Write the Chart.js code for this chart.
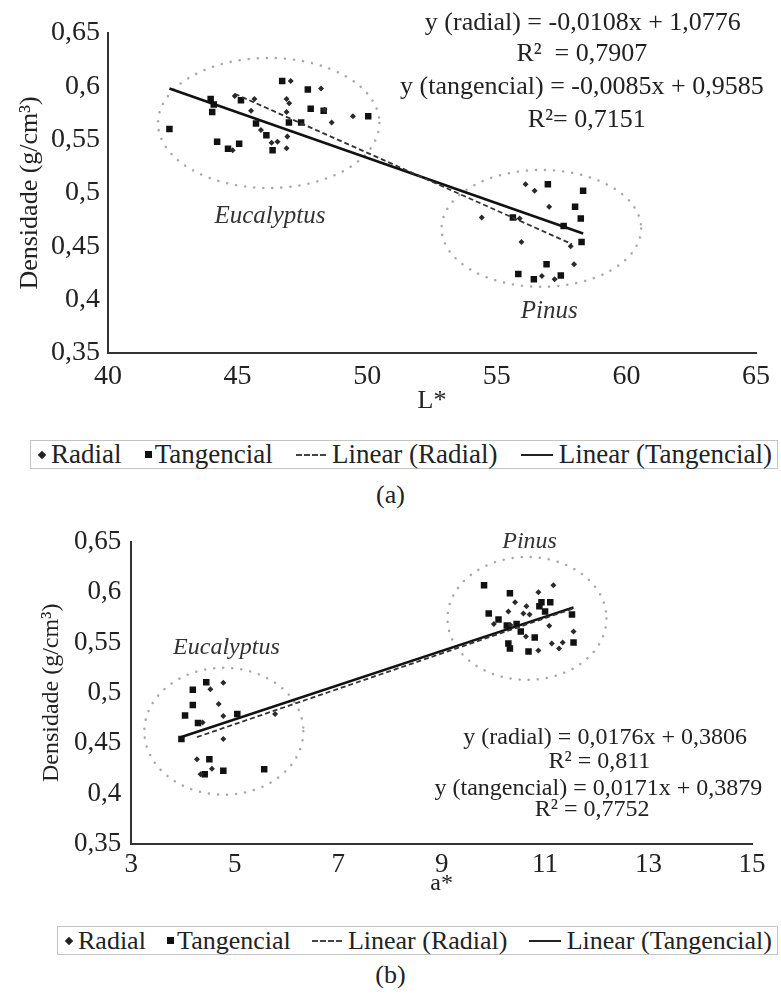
<!DOCTYPE html>
<html>
<head>
<meta charset="utf-8">
<title>Densidade x L* e a*</title>
<script src="https://cdn.jsdelivr.net/npm/chart.js"></script>
<style>
    body { margin: 0; background: #fff; }
    #page { position: relative; width: 781px; height: 996px; font-family: "Liberation Serif", serif; color: #222; }
    canvas { position: absolute; left: 0; }
    #chartA { top: 0; }
    #chartB { top: 505px; }
    .legend {
        position: absolute; box-sizing: border-box; border: 1px solid #c4c4c4;
        display: flex; justify-content: space-between; align-items: center;
        white-space: nowrap; padding: 0 5px 0 7px;
    }
    #legendA { left: 30px; top: 440px; width: 748px; height: 29px; font-size: 27px; }
    #legendB { left: 57px; top: 926px; width: 721px; height: 29px; font-size: 26px; }
    .item { display: flex; align-items: center; }
    .mk { display: inline-block; }
    .mk.diamond { width: 6px; height: 6px; background: #222; transform: rotate(45deg); margin: 0 6px 0 1px; }
    .mk.square { width: 7px; height: 7px; background: #111; margin-right: 3px; }
    .mk.dash { width: 30px; border-top: 2px dashed #444; margin-right: 6px; }
    .mk.line { width: 32px; border-top: 2px solid #222; margin-right: 6px; }
    .caption { position: absolute; left: 0; width: 781px; text-align: center; font-size: 26px; line-height: 30px; }
    #capA { top: 480px; }
    #capB { top: 960px; }
</style>
</head>
<body>
<div id="page">
    <canvas id="chartA" width="781" height="420"></canvas>
    <div id="legendA" class="legend"></div>
    <div id="capA" class="caption">(a)</div>
    <canvas id="chartB" width="781" height="400"></canvas>
    <div id="legendB" class="legend"></div>
    <div id="capB" class="caption">(b)</div>
</div>
<script>
Chart.defaults.font.family = "'Liberation Serif', 'Times New Roman', serif";
Chart.defaults.color = '#222';

const seriesNames = ['Radial', 'Tangencial', 'Linear (Radial)', 'Linear (Tangencial)'];
const densTicks = [0.35, 0.4, 0.45, 0.5, 0.55, 0.6, 0.65];

// (a) densidade x L*
const lRadial = [44.81, 44.89, 45.52, 45.65, 45.90, 46.31, 46.54, 46.89, 46.99, 46.89, 46.92, 46.89, 47.05, 48.22, 48.35, 48.63, 49.45,
                 54.42, 55.88, 55.95, 56.11, 56.46, 56.74, 57.02, 57.23, 57.85, 57.98];
const densLRadial = [0.540, 0.591, 0.577, 0.588, 0.559, 0.547, 0.548, 0.588, 0.584, 0.576, 0.553, 0.542, 0.605, 0.598, 0.578, 0.566, 0.572,
                     0.477, 0.476, 0.454, 0.508, 0.502, 0.422, 0.487, 0.419, 0.450, 0.433];
const lTang = [42.37, 43.96, 44.08, 44.02, 44.21, 44.63, 45.06, 45.13, 45.71, 46.11, 46.35, 46.72, 46.98, 47.45, 47.71, 47.82, 48.32, 50.04,
               56.97, 58.33, 58.02, 58.24, 55.62, 57.58, 58.27, 56.92, 55.83, 56.43, 57.47];
const densLTang = [0.560, 0.588, 0.583, 0.576, 0.548, 0.5415, 0.546, 0.587, 0.565, 0.554, 0.540, 0.605, 0.566, 0.566, 0.597, 0.579, 0.577, 0.572,
                   0.508, 0.502, 0.487, 0.476, 0.477, 0.469, 0.454, 0.433, 0.424, 0.419, 0.4225];
const lFitRadial = [44.89, 57.90];
const densLFitRadial = [0.593, 0.452];
const lFitTang = [42.37, 58.33];
const densLFitTang = [0.598, 0.462];
const lTicks = [40, 45, 50, 55, 60, 65];
const eqL = ['y (radial) = -0,0108x + 1,0776', 'R²  = 0,7907', 'y (tangencial) = -0,0085x + 0,9585', 'R²= 0,7151'];

// (b) densidade x a*
const aRadial = [4.78, 4.53, 4.69, 4.78, 4.38, 5.78, 4.78, 4.27, 4.56, 4.34,
                 11.16, 10.87, 10.42, 10.64, 10.29, 10.58, 10.70, 10.01, 11.08, 11.55, 10.63, 11.13, 11.34, 11.27, 10.87, 10.33];
const densARadial = [0.510, 0.5036, 0.489, 0.477, 0.4705, 0.479, 0.454, 0.434, 0.4245, 0.419,
                     0.607, 0.600, 0.590, 0.586, 0.581, 0.579, 0.578, 0.5685, 0.5666, 0.561, 0.556, 0.549, 0.550, 0.544, 0.542, 0.5675];
const aTang = [4.45, 4.19, 4.19, 4.04, 4.29, 5.05, 3.97, 4.51, 4.42, 4.78, 5.57,
               9.82, 10.32, 10.93, 11.10, 10.89, 11.00, 9.91, 11.52, 10.10, 10.26, 10.45, 10.53, 10.80, 11.55, 10.29, 10.32, 10.68];
const densATang = [0.5106, 0.503, 0.488, 0.4775, 0.470, 0.479, 0.454, 0.434, 0.419, 0.4225, 0.424,
                   0.607, 0.599, 0.590, 0.590, 0.586, 0.581, 0.579, 0.578, 0.573, 0.567, 0.5685, 0.561, 0.555, 0.550, 0.549, 0.544, 0.541];
const aFitRadial = [4.27, 11.55];
const densAFitRadial = [0.456, 0.584];
const aFitTang = [3.97, 11.55];
const densAFitTang = [0.456, 0.585];
const aTicks = [3, 5, 7, 9, 11, 13, 15];
const eqA = ['y (radial) = 0,0176x + 0,3806', 'R² = 0,811', 'y (tangencial) = 0,0171x + 0,3879', 'R² = 0,7752'];

const pts = (xs, ys) => xs.map((x, i) => ({x: x, y: ys[i]}));
const fmt = v => String(+(+v).toFixed(2)).replace('.', ',');

// dotted ellipses around the groups and the text notes, placed in data units
function decor(ellipses, notes) {
    return {
        id: 'decor',
        beforeDatasetsDraw(chart) {
            const {ctx, scales: {x, y}} = chart;
            ctx.save();
            ctx.strokeStyle = '#a8a8a8';
            ctx.lineWidth = 2.5;
            ctx.lineCap = 'round';
            ctx.setLineDash([0.1, 9]);
            ellipses.forEach(e => {
                const cx = x.getPixelForValue(e.cx), cy = y.getPixelForValue(e.cy);
                const rx = x.getPixelForValue(e.cx + e.rx) - cx;
                const ry = cy - y.getPixelForValue(e.cy + e.ry);
                ctx.beginPath();
                ctx.ellipse(cx, cy, rx, ry, 0, 0, 2 * Math.PI);
                ctx.stroke();
            });
            ctx.restore();
        },
        afterDraw(chart) {
            const {ctx, scales: {x, y}} = chart;
            ctx.save();
            ctx.textAlign = 'center';
            ctx.textBaseline = 'middle';
            notes.forEach(n => {
                ctx.font = (n.italic ? 'italic ' : '') + n.size + "px 'Liberation Serif', serif";
                ctx.fillStyle = n.italic ? '#333' : '#222';
                ctx.fillText(n.text, x.getPixelForValue(n.x), y.getPixelForValue(n.y));
            });
            ctx.restore();
        }
    };
}

function makeChart(id, o) {
    return new Chart(document.getElementById(id), {
        type: 'scatter',
        data: {
            datasets: [
                { label: seriesNames[0], mark: 'diamond', data: pts(o.xR, o.yR), pointStyle: 'rectRot', pointRadius: 3,
                  backgroundColor: '#2a2a2a', borderWidth: 0, order: 2 },
                { label: seriesNames[1], mark: 'square', data: pts(o.xT, o.yT), pointStyle: 'rect', pointRadius: 4.6,
                  backgroundColor: '#111', borderWidth: 0, order: 2 },
                { label: seriesNames[2], mark: 'dash', data: pts(o.fxR, o.fyR), showLine: true, borderColor: '#333',
                  borderWidth: 1.8, borderDash: [5, 3], pointRadius: 0, order: 1 },
                { label: seriesNames[3], mark: 'line', data: pts(o.fxT, o.fyT), showLine: true, borderColor: '#111',
                  borderWidth: 2.6, pointRadius: 0, order: 1 }
            ]
        },
        options: {
            responsive: false,
            animation: false,
            devicePixelRatio: 1,
            layout: { padding: o.pad },
            plugins: { legend: { display: false }, tooltip: { enabled: false } },
            scales: {
                x: {
                    type: 'linear', min: o.xTicks[0], max: o.xTicks[o.xTicks.length - 1],
                    afterBuildTicks: s => { s.ticks = o.xTicks.map(v => ({value: v})); },
                    grid: { display: false, drawTicks: false },
                    border: { color: '#333', width: 2 },
                    ticks: { font: { size: o.tick, lineHeight: 0.9 }, padding: o.xTickPad, color: '#222', callback: fmt, maxRotation: 0 },
                    title: { display: true, text: o.xTitle, font: { size: o.titleSize, lineHeight: 1 },
                             padding: { top: o.xTitleGap, bottom: 0 }, color: '#222' }
                },
                y: {
                    type: 'linear', min: 0.35, max: 0.65,
                    afterBuildTicks: s => { s.ticks = densTicks.map(v => ({value: v})); },
                    grid: { display: false, drawTicks: false },
                    border: { color: '#333', width: 2 },
                    ticks: { font: { size: o.tick, lineHeight: 0.9 }, padding: o.yTickPad, color: '#222', callback: fmt },
                    title: { display: true, text: 'Densidade (g/cm³)', font: { size: o.titleSize, lineHeight: 1 },
                             padding: { top: 0, bottom: 0 }, color: '#222' }
                }
            }
        },
        plugins: [decor(o.ellipses, o.notes)]
    });
}

function buildLegend(id, chart) {
    const el = document.getElementById(id);
    chart.data.datasets.forEach(ds => {
        const item = document.createElement('span');
        item.className = 'item';
        const mk = document.createElement('span');
        mk.className = 'mk ' + ds.mark;
        item.appendChild(mk);
        item.appendChild(document.createTextNode(ds.label));
        el.appendChild(item);
    });
}

const chartA = makeChart('chartA', {
    xR: lRadial, yR: densLRadial, xT: lTang, yT: densLTang,
    fxR: lFitRadial, fyR: densLFitRadial, fxT: lFitTang, fyT: densLFitTang,
    xTicks: lTicks, xTitle: 'L*',
    pad: { left: 17, top: 33, right: 18, bottom: 6 },
    tick: 28, titleSize: 26, xTickPad: 11, yTickPad: 8, xTitleGap: -12,
    ellipses: [
        { cx: 46.2, cy: 0.5656, rx: 4.27, ry: 0.061 },
        { cx: 56.72, cy: 0.4667, rx: 3.85, ry: 0.0548 }
    ],
    notes: [
        { text: eqL[0], x: 58.32, y: 0.6594, size: 26 },
        { text: eqL[1], x: 58.28, y: 0.6303, size: 26 },
        { text: eqL[2], x: 58.28, y: 0.5994, size: 26 },
        { text: eqL[3], x: 58.47, y: 0.5684, size: 26 },
        { text: 'Eucalyptus', x: 46.25, y: 0.4775, size: 25, italic: true },
        { text: 'Pinus', x: 57.02, y: 0.3887, size: 25, italic: true }
    ]
});

const chartB = makeChart('chartB', {
    xR: aRadial, yR: densARadial, xT: aTang, yT: densATang,
    fxR: aFitRadial, fyR: densAFitRadial, fxT: aFitTang, fyT: densAFitTang,
    xTicks: aTicks, xTitle: 'a*',
    pad: { left: 40, top: 37, right: 29, bottom: 9 },
    tick: 27, titleSize: 24, xTickPad: 9, yTickPad: 10, xTitleGap: -14,
    ellipses: [
        { cx: 4.79, cy: 0.4618, rx: 1.537, ry: 0.0631 },
        { cx: 10.65, cy: 0.574, rx: 1.537, ry: 0.0611 }
    ],
    notes: [
        { text: eqA[0], x: 12.16, y: 0.4553, size: 24 },
        { text: eqA[1], x: 12.05, y: 0.4315, size: 24 },
        { text: eqA[2], x: 12.03, y: 0.4046, size: 24 },
        { text: eqA[3], x: 11.91, y: 0.3838, size: 24 },
        { text: 'Eucalyptus', x: 4.84, y: 0.5447, size: 24, italic: true },
        { text: 'Pinus', x: 10.70, y: 0.6503, size: 24, italic: true }
    ]
});

buildLegend('legendA', chartA);
buildLegend('legendB', chartB);
</script>
</body>
</html>
